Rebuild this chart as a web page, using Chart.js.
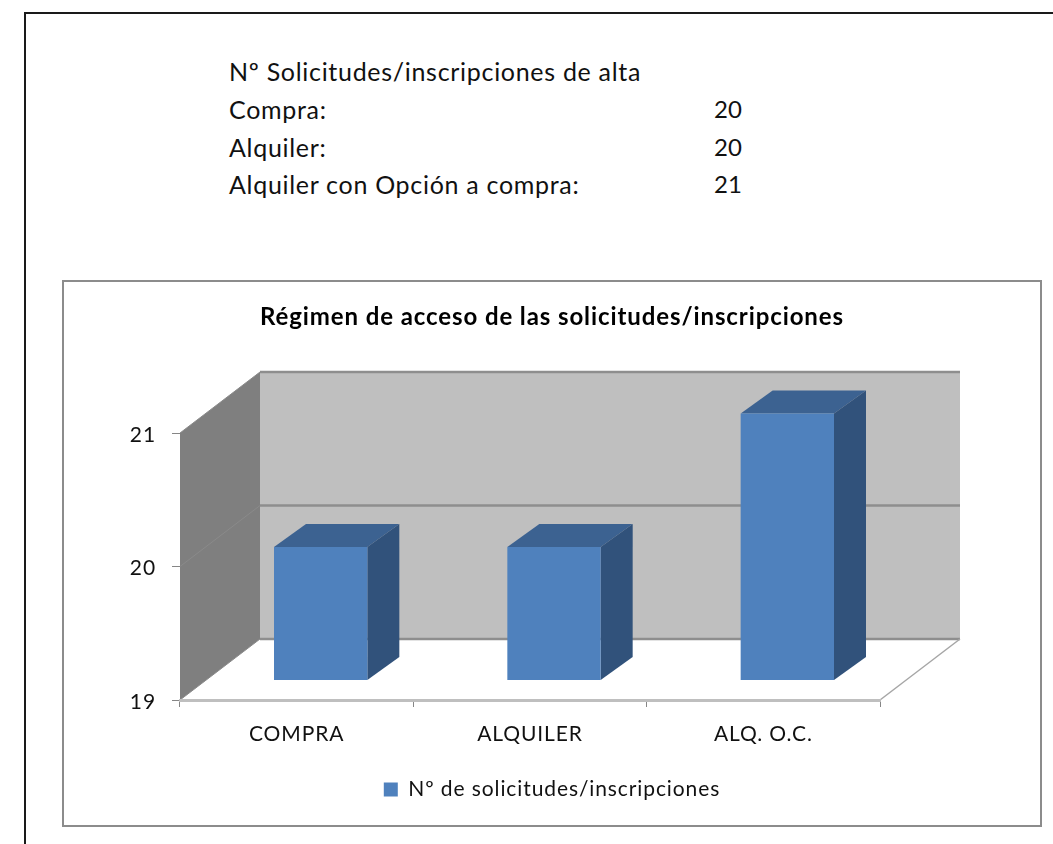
<!DOCTYPE html>
<html>
<head>
<meta charset="utf-8">
<title>Régimen de acceso</title>
<script src="https://cdn.jsdelivr.net/npm/chart.js@4"></script>
<style>
    html, body { margin: 0; background: #fff; overflow: hidden; }
    #page { position: absolute; left: 24px; top: 12px; width: 1100px; height: 900px; border: 2px solid #1a1a1a; box-sizing: border-box; }
    .row { position: absolute; left: 229px; font: 25px Lato, sans-serif; letter-spacing: 0.7px; color: #111; white-space: nowrap; line-height: 24px; }
    .row.val { left: 714px; letter-spacing: 0; font-size: 24px; }
    #box { position: absolute; left: 62px; top: 280px; width: 980px; height: 547px; border: 2px solid #8c8c8c; box-sizing: border-box; }
    canvas { position: absolute; left: 62px; top: 280px; }
</style>
</head>
<body>
<div id="page"></div>
<div id="box"></div>
<canvas id="chart" width="980" height="547"></canvas>
<script>
// Summary block above the chart
const summaryHeading = 'Nº Solicitudes/inscripciones de alta';
const summaryLabels = ['Compra:', 'Alquiler:', 'Alquiler con Opción a compra:'];
const summaryValues = [20, 20, 21];

// Chart data
const categories = ['COMPRA', 'ALQUILER', 'ALQ. O.C.'];
const seriesName = 'Nº de solicitudes/inscripciones';
const seriesValues = [20, 20, 21];
const chartTitle = 'Régimen de acceso de las solicitudes/inscripciones';
const axisMin = 19;
const axisMax = 21;

// Summary rows
const rowTops = [59, 97, 135, 172];
function addRow(text, top, cls) {
    const el = document.createElement('div');
    el.className = cls;
    el.style.top = top + 'px';
    el.textContent = text;
    document.body.appendChild(el);
}
addRow(summaryHeading, rowTops[0], 'row');
summaryLabels.forEach((label, i) => {
    addRow(label, rowTops[i + 1], 'row');
    addRow(String(summaryValues[i]), rowTops[i + 1], 'row val');
});

// Fake 3D look: wall depth, bar offset from the axis plane, bar depth
const wallDepth = { x: 80, y: -61 };
const barShift = { x: 24, y: -19.5 };
const barDepth = { x: 32, y: -23 };

function poly(ctx, pts, fill) {
    ctx.beginPath();
    pts.forEach((p, i) => i ? ctx.lineTo(p[0], p[1]) : ctx.moveTo(p[0], p[1]));
    ctx.closePath();
    ctx.fillStyle = fill;
    ctx.fill();
}
function line(ctx, x1, y1, x2, y2, color, width) {
    ctx.beginPath();
    ctx.moveTo(x1, y1);
    ctx.lineTo(x2, y2);
    ctx.strokeStyle = color;
    ctx.lineWidth = width;
    ctx.stroke();
}

const wallsPlugin = {
    id: 'walls',
    beforeUpdate(chart) {
        // the reference font runs wider than Lato
        chart.ctx.letterSpacing = '0.9px';
    },
    beforeDraw(chart) {
        const { ctx, chartArea: a, scales } = chart;
        const dx = wallDepth.x, dy = wallDepth.y;
        ctx.save();
        poly(ctx, [[a.left, a.top], [a.left + dx, a.top + dy], [a.left + dx, a.bottom + dy], [a.left, a.bottom]], '#7f7f7f');
        poly(ctx, [[a.left + dx, a.top + dy], [a.right + dx, a.top + dy], [a.right + dx, a.bottom + dy], [a.left + dx, a.bottom + dy]], '#bfbfbf');
        scales.y.ticks.forEach(t => {
            const y = scales.y.getPixelForValue(t.value);
            line(ctx, a.left + dx, y + dy, a.right + dx, y + dy, '#8e8e8e', 2.5);
            line(ctx, a.left, y, a.left + dx, y + dy, '#8a8a8a', 1);
        });
        line(ctx, a.right, a.bottom, a.right + dx, a.bottom + dy, '#a6a6a6', 1.5);
        ctx.restore();
    }
};

const barsPlugin = {
    id: 'bars3d',
    beforeDatasetsDraw(chart) {
        const { ctx } = chart;
        ctx.save();
        ctx.translate(barShift.x, barShift.y);
        chart.getDatasetMeta(0).data.forEach(bar => {
            const l = bar.x - bar.width / 2, r = bar.x + bar.width / 2;
            poly(ctx, [[l, bar.y], [l + barDepth.x, bar.y + barDepth.y], [r + barDepth.x, bar.y + barDepth.y], [r, bar.y]], '#3c6291');
            poly(ctx, [[r, bar.y], [r + barDepth.x, bar.y + barDepth.y], [r + barDepth.x, bar.base + barDepth.y], [r, bar.base]], '#31527b');
        });
    },
    afterDatasetsDraw(chart) {
        chart.ctx.restore();
    }
};

new Chart(document.getElementById('chart'), {
    type: 'bar',
    data: {
        labels: categories,
        datasets: [{
            label: seriesName,
            data: seriesValues,
            base: axisMin,
            backgroundColor: '#4f81bd',
            barPercentage: 0.4,
            categoryPercentage: 1,
            clip: false
        }]
    },
    plugins: [wallsPlugin, barsPlugin],
    options: {
        responsive: false,
        animation: false,
        layout: { padding: { left: 0, right: 0, top: 0, bottom: 17 } },
        plugins: {
            tooltip: { enabled: false },
            title: {
                display: true,
                text: chartTitle,
                color: '#000',
                font: { family: 'Lato', size: 24, weight: 'bold' },
                padding: { top: 23, bottom: 101.2 }
            },
            legend: {
                position: 'bottom',
                labels: {
                    boxWidth: 14,
                    boxHeight: 14,
                    color: '#111',
                    padding: 7,
                    font: { family: 'Lato', size: 21 }
                }
            }
        },
        scales: {
            x: {
                grid: { drawOnChartArea: false, color: '#868686', tickLength: 7 },
                border: { color: '#bfbfbf', width: 3 },
                ticks: { color: '#111', font: { family: 'Lato', size: 21 }, padding: 15, maxRotation: 0 },
                afterFit(scale) { scale.height = 72; }
            },
            y: {
                min: axisMin,
                max: axisMax,
                grid: { drawOnChartArea: false, color: '#868686', tickLength: 8 },
                border: { display: false },
                ticks: { stepSize: 1, color: '#111', font: { family: 'Lato', size: 21 }, padding: 16, labelOffset: 2 },
                afterFit(scale) { scale.width = 118; }
            },
            // keeps the room on the right that the 3D floor runs into
            gutter: {
                type: 'linear',
                position: 'right',
                grid: { display: false },
                border: { display: false },
                ticks: { display: false },
                afterFit(scale) { scale.width = 162; }
            }
        }
    }
});
</script>
</body>
</html>
